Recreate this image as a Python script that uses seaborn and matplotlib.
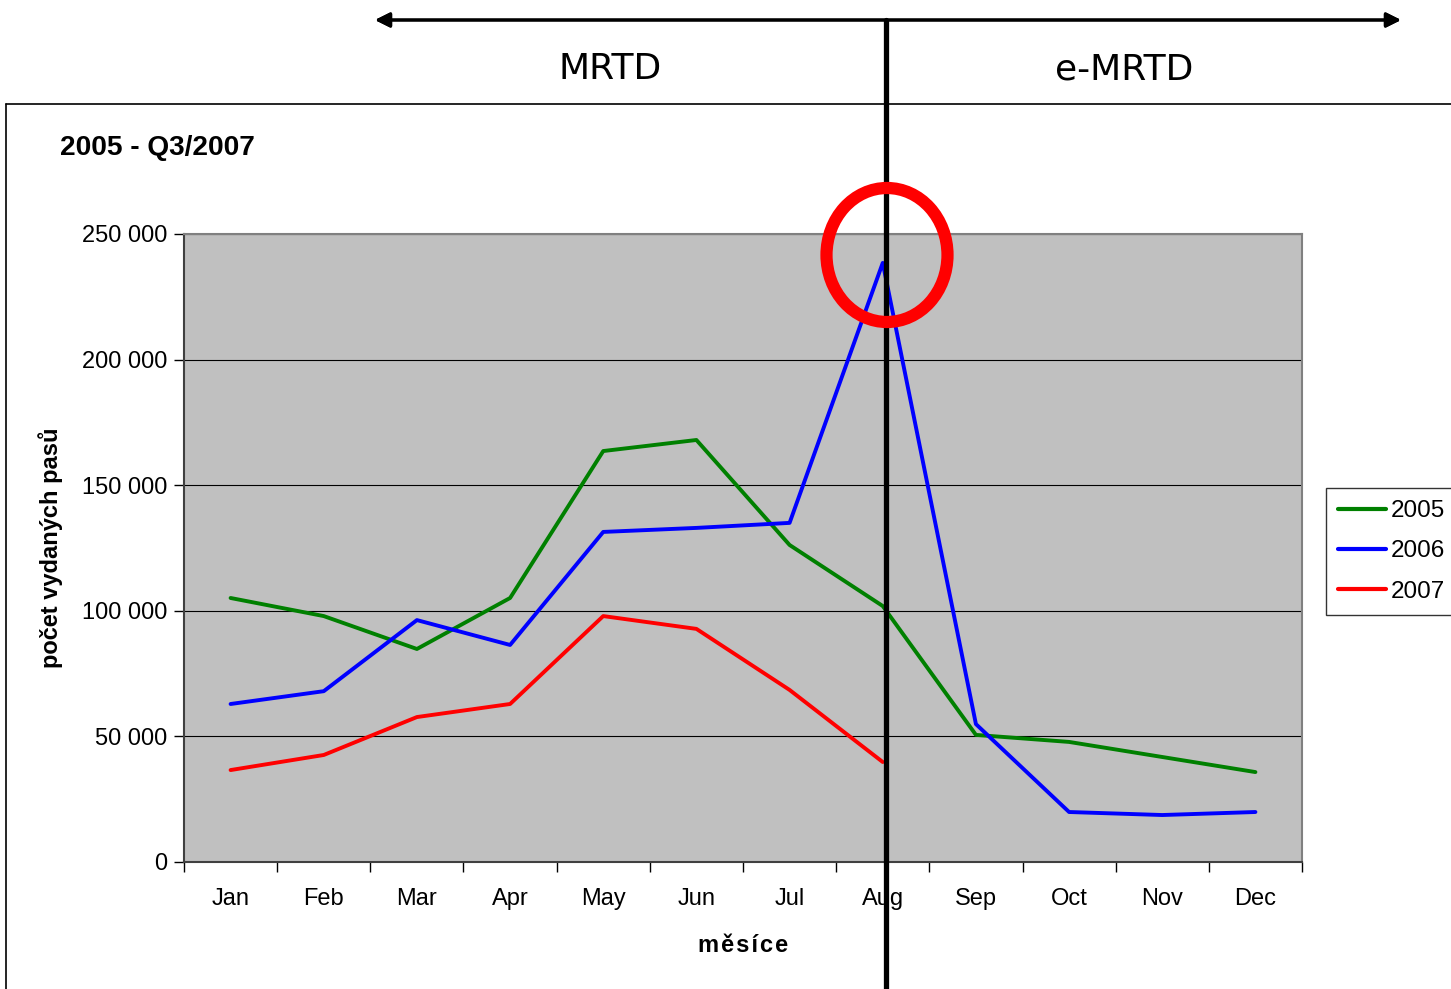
import matplotlib
matplotlib.use("Agg")
import matplotlib.pyplot as plt
import seaborn as sns
import pandas as pd
from matplotlib.patches import Ellipse
from matplotlib.lines import Line2D

months = ["Jan", "Feb", "Mar", "Apr", "May", "Jun", "Jul", "Aug", "Sep", "Oct", "Nov", "Dec"]
v2005 = [105100, 97900, 84800, 105100, 163600, 168000, 126200, 101900, 50600, 47800, 41800, 35800]
v2006 = [62900, 68000, 96300, 86400, 131400, 133000, 135000, 238500, 54900, 19900, 18700, 19900]
v2007 = [36600, 42600, 57700, 62900, 97900, 92800, 68500, 39800]
years = ["2005", "2006", "2007"]
colors = ["#008000", "#0000FF", "#FF0000"]
yticks = [0, 50000, 100000, 150000, 200000, 250000]
ytick_labels = ["0", "50 000", "100 000", "150 000", "200 000", "250 000"]

rows = []
for yr, vals in zip(years, [v2005, v2006, v2007]):
    for i, v in enumerate(vals):
        rows.append({"m": i, "month": months[i], "year": yr, "value": v})
df = pd.DataFrame(rows)

sns.set_theme(style="white")
plt.rcParams["font.family"] = ["Liberation Sans", "DejaVu Sans"]
plt.rcParams["text.color"] = "black"
plt.rcParams["axes.labelcolor"] = "black"
plt.rcParams["xtick.color"] = "black"
plt.rcParams["ytick.color"] = "black"

W, H = 1451, 989
fig = plt.figure(figsize=(W / 100, H / 100), dpi=100)
ax = fig.add_axes([184 / W, 1 - 862 / H, (1302 - 184) / W, (862 - 234) / H])
ax.set_facecolor("#C0C0C0")

sns.lineplot(data=df, x="m", y="value", hue="year", palette=colors, sort=False,
             linewidth=2.8, ax=ax, legend=False)

ax.set_xlim(-0.5, 11.5)
ax.set_ylim(0, 250000)
ax.set_yticks(yticks)
ax.set_yticklabels(ytick_labels, fontsize=17, color="black")
ax.yaxis.grid(True, color="black", linewidth=0.8)
ax.set_axisbelow(True)

ax.set_xticks([i + 0.5 for i in range(-1, 12)])
ax.set_xticklabels([])
ax.set_xticks(range(12), minor=True)
ax.set_xticklabels(months, minor=True, fontsize=17, color="black")
ax.tick_params(axis="x", which="major", direction="out", length=7, width=1, color="black", bottom=True)
ax.tick_params(axis="x", which="minor", length=0, pad=19)
ax.tick_params(axis="y", direction="out", length=7, width=1, color="black", left=True, pad=5)

for s in ["top", "right"]:
    ax.spines[s].set_color("#808080")
    ax.spines[s].set_linewidth(1.5)
for s in ["left", "bottom"]:
    ax.spines[s].set_color("#404040")
    ax.spines[s].set_linewidth(1.5)

hs = "\u200a"
ax.set_xlabel(hs.join("měsíce"), fontsize=17, fontweight="bold", labelpad=17)
ax.set_ylabel("počet vydaných pasů", fontsize=17, fontweight="bold", labelpad=14)

# outer chart frame
fig.add_artist(Line2D([6 / W, 6 / W], [0, 1 - 104 / H], transform=fig.transFigure, color="black", lw=1.2))
fig.add_artist(Line2D([6 / W, 1], [1 - 104 / H, 1 - 104 / H], transform=fig.transFigure, color="black", lw=1.2))

fig.text(60 / W, 1 - 148 / H, "2005 - Q3/2007", fontsize=20.2, fontweight="bold", va="center", ha="left")

# legend
handles = [Line2D([], [], color=c, lw=3) for c in colors]
leg = fig.legend(handles, years, loc="upper left", bbox_to_anchor=(1326 / W, 1 - 488 / H),
                 frameon=True, fontsize=17.5, handlelength=1.95, handletextpad=0.2,
                 borderpad=0.5, labelspacing=0.75, fancybox=False, borderaxespad=0)
leg.get_frame().set_edgecolor("black")
leg.get_frame().set_linewidth(1.0)

# top arrow and labels
fig.add_artist(plt.annotate("", xy=(1401 / W, 1 - 20 / H), xytext=(375 / W, 1 - 20 / H),
                            xycoords="figure fraction", textcoords="figure fraction",
                            arrowprops=dict(arrowstyle="<|-|>", color="black", lw=2.2,
                                            mutation_scale=22, shrinkA=0, shrinkB=0)))
fig.text(610 / W, 1 - 69 / H, "MRTD", fontsize=26, family="DejaVu Sans", ha="center", va="center")
fig.text(1124 / W, 1 - 69 / H, "e-MRTD", fontsize=26, family="DejaVu Sans", ha="center", va="center")

# vertical divider
fig.add_artist(Line2D([886 / W, 886 / W], [0, 1 - 20 / H], transform=fig.transFigure, color="black", lw=3.8, zorder=10))

# red ellipse
fig.add_artist(Ellipse((887 / W, 1 - 255 / H), 121 / W, 134 / H, transform=fig.transFigure,
                       fill=False, edgecolor="#FF0000", lw=8.8, zorder=11))

fig.savefig("out.png", dpi=100)
